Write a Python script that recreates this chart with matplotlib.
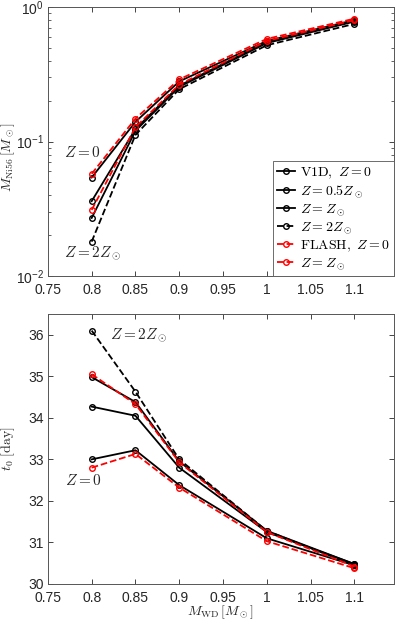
import matplotlib
matplotlib.use("Agg")
import matplotlib.pyplot as plt
from matplotlib.ticker import FixedLocator, LogLocator, NullFormatter

plt.rcParams['mathtext.fontset'] = 'cm'
plt.rcParams['font.family'] = ['Liberation Sans', 'DejaVu Sans']

mwd = [0.8, 0.85, 0.9, 1.0, 1.1]

# Ni56 mass [Msun]
ni_v1d_z0 = [0.054, 0.140, 0.280, 0.560, 0.800]
ni_v1d_z05 = [0.036, 0.124, 0.260, 0.550, 0.790]
ni_v1d_z1 = [0.027, 0.120, 0.255, 0.540, 0.780]
ni_v1d_z2 = [0.018, 0.112, 0.245, 0.520, 0.750]
ni_flash_z0 = [0.0575, 0.148, 0.290, 0.580, 0.820]
ni_flash_z1 = [0.031, 0.128, 0.265, 0.560, 0.800]

# t0 [day]
t0_v1d_z0 = [33.00, 33.22, 32.38, 31.10, 30.45]
t0_v1d_z05 = [34.27, 34.05, 32.80, 31.25, 30.48]
t0_v1d_z1 = [34.98, 34.38, 32.95, 31.28, 30.48]
t0_v1d_z2 = [36.10, 34.63, 33.00, 31.28, 30.45]
t0_flash_z0 = [32.80, 33.13, 32.32, 31.03, 30.38]
t0_flash_z1 = [35.05, 34.33, 32.93, 31.25, 30.42]

labels = [r"$\mathrm{V1D},\ Z=0$", r"$Z=0.5Z_\odot$", r"$Z=Z_\odot$",
          r"$Z=2Z_\odot$", r"$\mathrm{FLASH},\ Z=0$", r"$Z=Z_\odot$"]
styles = [('k', '-'), ('k', '-'), ('k', '-'), ('k', '--'), ('r', '--'), ('r', '--')]

xticks = [0.75, 0.8, 0.85, 0.9, 0.95, 1.0, 1.05, 1.1]
xticklabels = ["0.75", "0.8", "0.85", "0.9", "0.95", "1", "1.05", "1.1"]

fig = plt.figure(figsize=(3.99, 6.21), dpi=100)
ax1 = fig.add_axes([0.120, 0.5556, 0.867, 0.4330])
ax2 = fig.add_axes([0.120, 0.0596, 0.867, 0.4348])

gray = '#262626'
frame = '#555555'

ni_sets = [ni_v1d_z0, ni_v1d_z05, ni_v1d_z1, ni_v1d_z2, ni_flash_z0, ni_flash_z1]
t0_sets = [t0_v1d_z0, t0_v1d_z05, t0_v1d_z1, t0_v1d_z2, t0_flash_z0, t0_flash_z1]

for ys, (c, ls), lab in zip(ni_sets, styles, labels):
    ax1.plot(mwd, ys, color=c, ls=ls, lw=1.3, marker='o', ms=4,
             mfc='none', mew=1.0, label=lab)
for ys, (c, ls) in zip(t0_sets, styles):
    ax2.plot(mwd, ys, color=c, ls=ls, lw=1.3, marker='o', ms=4,
             mfc='none', mew=1.0)

ax1.set_yscale('log')
ax1.set_ylim(1e-2, 1)
ax1.yaxis.set_minor_locator(LogLocator(base=10, subs=range(2, 10)))
ax1.yaxis.set_minor_formatter(NullFormatter())
ax1.set_ylabel(r"$M_{\mathrm{Ni56}}\,[M_\odot]$", fontsize=10, color=gray)
ax1.yaxis.set_label_coords(-0.088, 0.44)

ax2.set_ylim(30, 36.5)
ax2.set_yticks([30, 31, 32, 33, 34, 35, 36])
ax2.set_ylabel(r"$t_0\ [\mathrm{day}]$", fontsize=10, color=gray)
ax2.yaxis.set_label_coords(-0.088, 0.5)
ax2.set_xlabel(r"$M_{\mathrm{WD}}\,[M_\odot]$", fontsize=10, color=gray)
ax2.xaxis.set_label_coords(0.5, -0.072)

for ax in (ax1, ax2):
    ax.set_xlim(0.75, 1.145)
    ax.xaxis.set_major_locator(FixedLocator(xticks))
    ax.set_xticklabels(xticklabels)
    ax.tick_params(which='both', direction='in', top=True, right=True,
                   labelsize=10, colors=gray)
    ax.tick_params(axis='x', pad=5)
    ax.tick_params(axis='y', pad=3)
    ax.tick_params(which='major', length=3.5, width=0.6)
    ax.tick_params(which='minor', length=2, width=0.5)
    for sp in ax.spines.values():
        sp.set_color(frame)
        sp.set_linewidth(0.7)

ax1.text(0.768, 0.077, r"$Z=0$", fontsize=11, color=gray)
ax1.text(0.768, 0.014, r"$Z=2Z_\odot$", fontsize=11, color=gray)
ax2.text(0.821, 35.9, r"$Z=2Z_\odot$", fontsize=11, color=gray)
ax2.text(0.769, 32.38, r"$Z=0$", fontsize=11, color=gray)

leg = ax1.legend(loc='lower right', fontsize=10, handlelength=1.3,
                 handletextpad=0.3, labelspacing=0.15, borderpad=0.3,
                 borderaxespad=0.0, fancybox=False, framealpha=1)
leg.get_frame().set_edgecolor(frame)
leg.get_frame().set_linewidth(0.6)

fig.savefig("out.png", dpi=100)
